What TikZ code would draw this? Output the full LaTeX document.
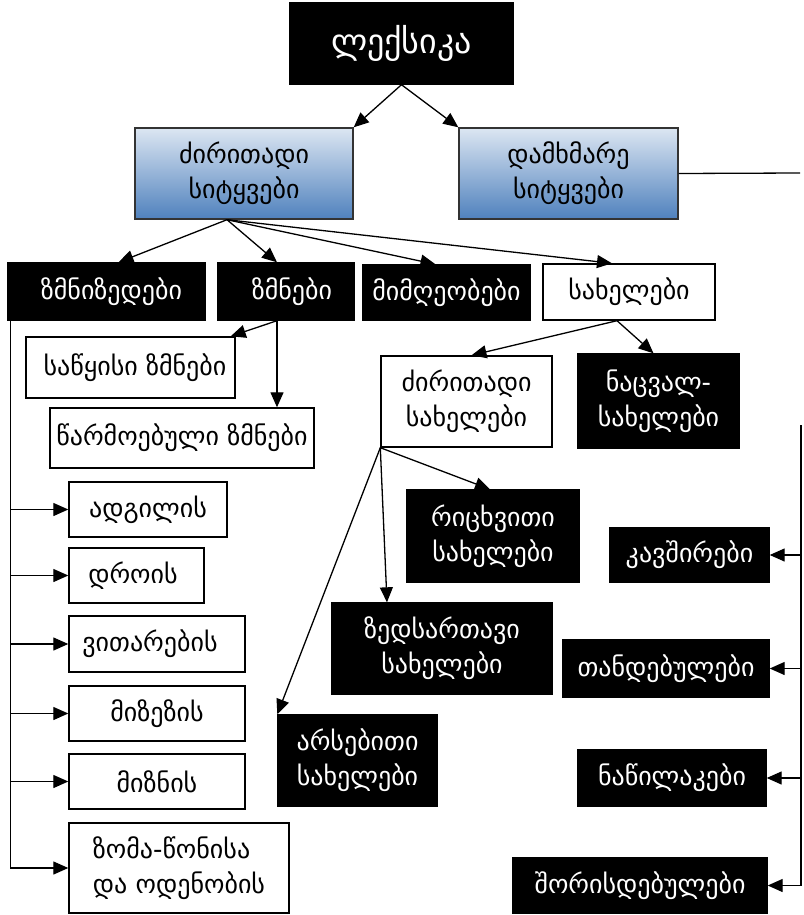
\documentclass[tikz,border=0pt]{standalone}
\usepackage{fontspec}
\setmainfont{DejaVu Sans}
\usetikzlibrary{arrows.meta,calc}
\definecolor{gtop}{HTML}{DCE6F2}
\definecolor{gbot}{HTML}{4F81BD}
\tikzset{
  base/.style={rectangle, inner sep=0pt, align=center, line width=1.4pt, font=\fontsize{26}{35}\selectfont},
  blk/.style={base, fill=black, text=white, draw=black},
  wht/.style={base, fill=white, draw=black},
  grad/.style={base, draw=black!80, top color=gtop, bottom color=gbot},
  con/.style={line width=1.3pt, black},
  arr/.style={con, -{Triangle[length=15pt,width=13pt]}},
}
\begin{document}
\begin{tikzpicture}[x=1pt,y=-1pt]
\useasboundingbox (0,0) rectangle (803,915);
\fill[white] (0,0) rectangle (803,915);
% nodes
\node[blk, minimum width=223, minimum height=81, font=\fontsize{34}{40}\selectfont] (lex) at (401.5,43.5) {ლექსიკა};
\node[grad, minimum width=218, minimum height=91] (dzir) at (244,173.5) {ძირითადი\\სიტყვები};
\node[grad, minimum width=219, minimum height=91] (damx) at (568.5,173.5) {დამხმარე\\სიტყვები};
\node[blk, minimum width=197, minimum height=57] (zmniz) at (106.5,291.5) {\hspace{10pt}ზმნიზედები};
\node[blk, minimum width=136, minimum height=57] (zmn) at (286,291.5) {\hspace{12pt}ზმნები};
\node[blk, minimum width=167, minimum height=55] (mimg) at (446.5,292.5) {მიმღეობები};
\node[wht, minimum width=172, minimum height=56] (saxel) at (629,292) {სახელები};
\node[wht, minimum width=209, minimum height=61] (sawy) at (130.5,367.5) {\hspace{9pt}საწყისი ზმნები};
\node[wht, minimum width=264, minimum height=60] (warm) at (182,438) {წარმოებული ზმნები};
\node[wht, minimum width=158, minimum height=55] (adg) at (148,509.5) {ადგილის};
\node[wht, minimum width=135, minimum height=55] (dro) at (136.5,575.5) {დროის\hspace{7pt}};
\node[wht, minimum width=176, minimum height=56] (vit) at (157,644) {ვითარების\hspace{14pt}};
\node[wht, minimum width=176, minimum height=55] (mizez) at (157,713.5) {მიზეზის};
\node[wht, minimum width=176, minimum height=55] (mizn) at (157,781.5) {მიზნის};
\node[wht, minimum width=220, minimum height=90, align=left] (zoma) at (179,868) {ზომა-წონისა\\და ოდენობის\hspace{18pt}};
\node[wht, minimum width=171, minimum height=91] (dzs) at (466.5,401.5) {ძირითადი\\სახელები};
\node[blk, minimum width=161, minimum height=94] (nacv) at (658.5,401) {ნაცვალ-\\სახელები};
\node[blk, minimum width=172, minimum height=92] (ricx) at (493,536) {რიცხვითი\\სახელები};
\node[blk, minimum width=220, minimum height=91] (zeds) at (442,648.5) {ზედსართავი\\სახელები};
\node[blk, minimum width=159, minimum height=91] (arseb) at (357.5,760.5) {არსებითი\\სახელები};
\node[blk, minimum width=159, minimum height=54] (kavsh) at (689.5,555) {კავშირები};
\node[blk, minimum width=206, minimum height=57] (tand) at (666,668.5) {თანდებულები};
\node[blk, minimum width=188, minimum height=56] (naw) at (672,778) {ნაწილაკები};
\node[blk, minimum width=254, minimum height=55] (shor) at (640,885.5) {შორისდებულები};
% coordinates
\coordinate (damxend) at (800,173);
\coordinate (rt) at (801,425);
\coordinate (dzb) at ([xshift=-17pt]dzir.south);
\coordinate (zmb) at ([xshift=-9pt]zmn.south);
\coordinate (sxb) at ([xshift=-12pt]saxel.south);
\coordinate (lv) at ([xshift=3pt]zmniz.south west);
% connectors
\draw[arr] (lex.south) -- (dzir.north east);
\draw[arr] (lex.south) -- (damx.north west);
\draw[con] (damx.east) -- (damxend);
\draw[arr] (dzb) -- ([xshift=12pt]zmniz.north);
\draw[arr] (dzb) -- ([xshift=-9pt]zmn.north);
\draw[arr] (dzb) -- ([xshift=-11pt]mimg.north);
\draw[arr] (dzb) -- ([xshift=-17pt]saxel.north);
\draw[arr] (zmb) -- ([xshift=-5pt]sawy.north east);
\draw[arr] (zmb) -- (zmb |- warm.north);
\draw[arr] (lv) |- (zoma.west);
\foreach \n in {adg,dro,vit,mizez,mizn} \draw[arr] (lv |- \n.west) -- (\n.west);
\draw[arr] (sxb) -- ([xshift=5pt]dzs.north);
\draw[arr] (sxb) -- ([xshift=-5pt]nacv.north);
\draw[arr] (dzs.south west) -- ([xshift=-3pt]ricx.north);
\draw[arr] (dzs.south west) -- ([xshift=-55pt]zeds.north);
\draw[arr] (dzs.south west) -- (arseb.north west);
\draw[arr] (rt) |- (shor.east);
\foreach \n in {kavsh,tand,naw} \draw[arr] (rt |- \n.east) -- (\n.east);
\end{tikzpicture}
\end{document}
